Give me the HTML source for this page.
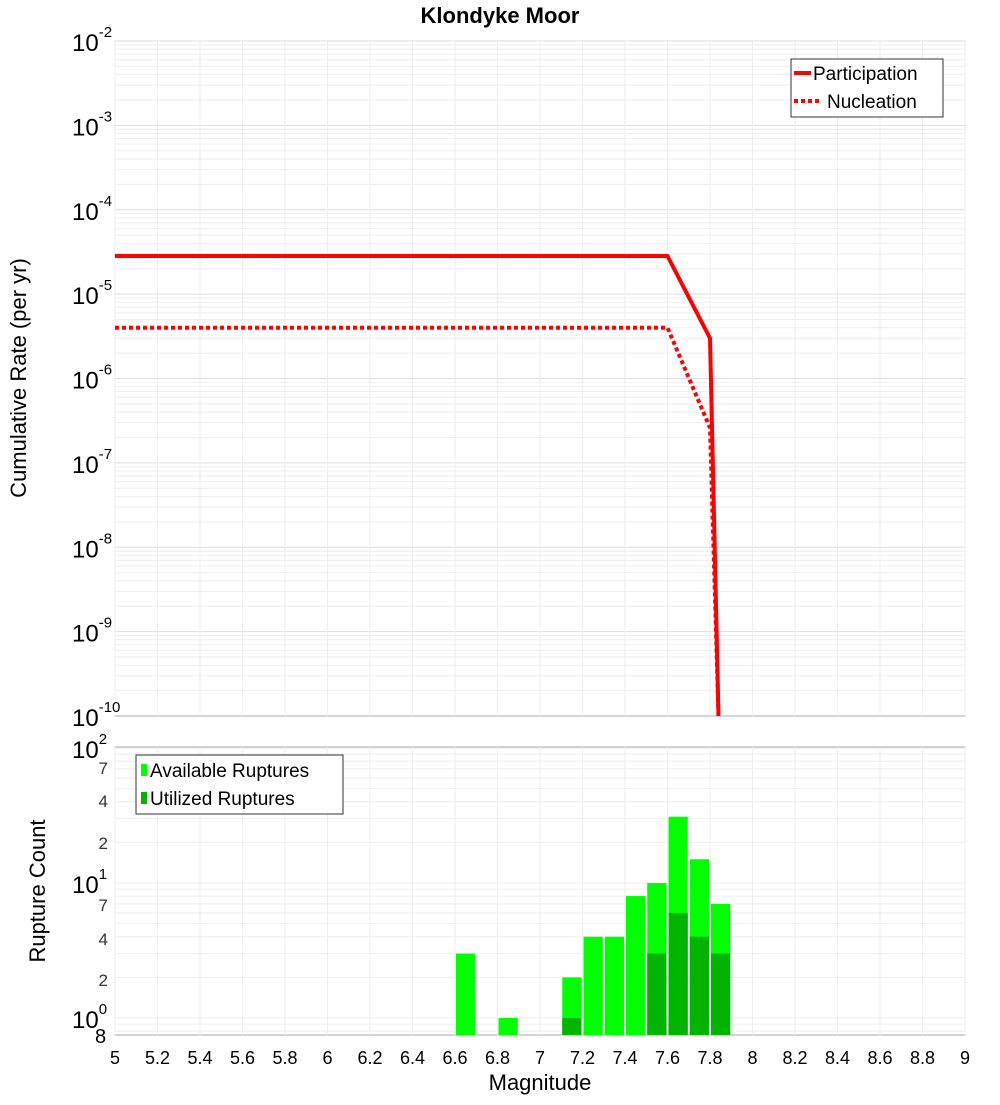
<!DOCTYPE html>
<html><head><meta charset="utf-8"><style>
body{margin:0;background:#fff;}
svg{font-family:"Liberation Sans","DejaVu Sans",sans-serif;}
</style></head><body>
<svg id="c" width="1000" height="1100" xmlns="http://www.w3.org/2000/svg">
<text x="500" y="23" text-anchor="middle" font-size="22" font-weight="bold">Klondyke Moor</text>
<g id="g1"></g><g id="g2"></g>
<text transform="translate(26,378) rotate(-90)" text-anchor="middle" font-size="22">Cumulative Rate (per yr)</text>
<text transform="translate(45,891) rotate(-90)" text-anchor="middle" font-size="22">Rupture Count</text>
<text x="540" y="1090" text-anchor="middle" font-size="22">Magnitude</text>
</svg>
<script>
const partMag=[5,7.6,7.8,7.84];
const partRate=[2.83e-5,2.83e-5,3e-6,5e-11];
const nuclMag=[5,7.6,7.8,7.84];
const nuclRate=[4e-6,4e-6,2.6e-7,5e-11];
const binMag=[6.65,6.85,7.15,7.25,7.35,7.45,7.55,7.65,7.75,7.85];
const availCount=[3,1,2,4,4,8,10,31,15,7];
const usedCount=[0,0,1,0,0,0,3,6,4,3];
const xTicks=[5,5.2,5.4,5.6,5.8,6,6.2,6.4,6.6,6.8,7,7.2,7.4,7.6,7.8,8,8.2,8.4,8.6,8.8,9];
const topDecades=[-2,-3,-4,-5,-6,-7,-8,-9,-10];
const NS="http://www.w3.org/2000/svg";
const L=115,R=965;
const X=m=>L+(m-5)/4*(R-L);
const T0=41,T1=716;
const YT=v=>T0+(-2-Math.log10(v))/8*(T1-T0);
const B0=747,B1=1035,BD=135;
const YB=v=>1018-Math.log10(v)*BD;
function el(p,t,a,txt){const e=document.createElementNS(NS,t);for(const k in a)e.setAttribute(k,a[k]);if(txt!==undefined)e.textContent=txt;p.appendChild(e);return e;}
const g1=document.getElementById('g1'),g2=document.getElementById('g2');
// top panel
let bg=el(g1,'rect',{x:L,y:T0,width:R-L,height:T1-T0,fill:'#fff',stroke:'#aaa'});

for(let d=-10;d<-2;d++){for(let k=2;k<=10;k++){const y=YT(k*Math.pow(10,d));const gl=el(g1,'line',{x1:L,x2:R,y1:y,y2:y,stroke:k==10?'#ddd':'#eee','stroke-width':1});
}}
xTicks.forEach(t=>{const gl=el(g1,'line',{x1:X(t),x2:X(t),y1:T0,y2:T1,stroke:'#eee'});
});
topDecades.forEach(d=>{const y=YT(Math.pow(10,d));const t=el(g1,'text',{x:72,y:y+10,'font-size':24});

el(t,'tspan',{},'10');el(t,'tspan',{dy:-14,'font-size':15},String(d));});
function line(ms,vs,attrs,name){const pts=ms.map((m,i)=>X(m)+','+Math.min(YT(vs[i]),T1)).join(' ');
const p=el(g1,'polyline',Object.assign({points:pts,fill:'none',stroke:'#f00','stroke-width':4},attrs));
}
line(partMag,partRate,{},'participation-line');
line(nuclMag,nuclRate,{'stroke-dasharray':'4,3'},'nucleation-line');
let lg=el(g1,'g',{});
el(lg,'rect',{x:791,y:59,width:152,height:58,fill:'#fff',stroke:'#333'});
el(lg,'line',{x1:794,x2:811,y1:73,y2:73,stroke:'#f00','stroke-width':4});
el(lg,'text',{x:813,y:80,'font-size':19},'Participation');
el(lg,'line',{x1:794,x2:822,y1:101,y2:101,stroke:'#f00','stroke-width':4,'stroke-dasharray':'4,3'});
el(lg,'text',{x:827,y:108,'font-size':19},'Nucleation');
// bottom panel
let bg2=el(g2,'rect',{x:L,y:B0,width:R-L,height:B1-B0,fill:'#fff',stroke:'#aaa'});

for(let d=-1;d<2;d++){for(let k=1;k<=10;k++){const y=YB(k*Math.pow(10,d));if(y<B0||y>B1)continue;const gl=el(g2,'line',{x1:L,x2:R,y1:y,y2:y,stroke:'#eee'});
}}
xTicks.forEach(t=>{const gl=el(g2,'line',{x1:X(t),x2:X(t),y1:B0,y2:B1,stroke:'#eee'});

const tl=el(g2,'text',{x:X(t),y:1064,'text-anchor':'middle','font-size':18},String(t));
});
const bw=(X(5.1)-X(5))-2;
binMag.forEach((m,i)=>{const y=YB(availCount[i]);const r=el(g2,'rect',{x:X(m)-bw/2,y:y,width:bw,height:B1-y,fill:'#00ff00'});

if(usedCount[i]>0){const y2=YB(usedCount[i]);const u=el(g2,'rect',{x:X(m)-bw/2,y:y2,width:bw,height:B1-y2,fill:'#00b400'});
}});
[[100,2],[10,1],[1,0]].forEach(([v,e])=>{const y=YB(v);const t=el(g2,'text',{x:72,y:y+10,'font-size':24});

el(t,'tspan',{},'10');el(t,'tspan',{dy:-14,'font-size':15},String(e));});
[[70,768],[40,801],[20,843],[7,905],[4,939],[2,980]].forEach(([v,y])=>{const t=el(g2,'text',{x:108,y:y+6,'text-anchor':'end','font-size':17,fill:'#333'},String(v).charAt(0));
});
let t8=el(g2,'text',{x:95,y:1043,'font-size':20},'8');
let lg2=el(g2,'g',{});
el(lg2,'rect',{x:136,y:755,width:207,height:59,fill:'#fff',stroke:'#333'});
el(lg2,'rect',{x:141,y:764,width:6,height:12,fill:'#00ff00'});
el(lg2,'text',{x:150,y:777,'font-size':19},'Available Ruptures');
el(lg2,'rect',{x:141,y:792,width:6,height:12,fill:'#00b400'});
el(lg2,'text',{x:150,y:805,'font-size':19},'Utilized Ruptures');
</script>
</body></html>
